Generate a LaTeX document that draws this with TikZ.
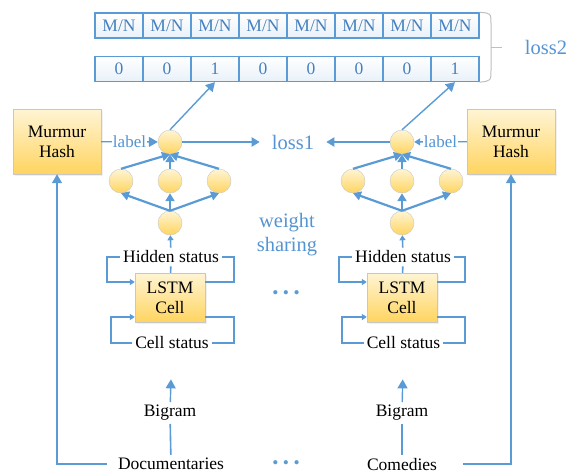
\documentclass[tikz,border=0pt]{standalone}
\usepackage{fontspec}
\setmainfont{Liberation Serif}
\usetikzlibrary{positioning, arrows.meta, shapes.geometric, calc, shadows}

\definecolor{lineblue}{RGB}{91,155,213}
\definecolor{textblue}{RGB}{84,148,210}
\definecolor{cellblue}{RGB}{70,128,190}
\definecolor{goldlight}{RGB}{255,245,212}
\definecolor{golddark}{RGB}{255,212,96}

\begin{document}
\begin{tikzpicture}[
    x=1pt, y=-1pt,
    font=\fontsize{17.5}{20}\selectfont,
    cell/.style={draw=lineblue, line width=1.3pt, minimum width=48pt, minimum height=25pt, inner sep=0pt, text=cellblue, top color=white, bottom color=lineblue!14},
    hashbox/.style={draw=black!22, rectangle, minimum width=88pt, minimum height=65pt, align=center, top color=goldlight, bottom color=golddark, drop shadow={opacity=0.12, shadow xshift=1.5pt, shadow yshift=-1.5pt}},
    lstmbox/.style={draw=black!22, rectangle, minimum width=70pt, minimum height=49pt, align=center, top color=goldlight, bottom color=golddark, drop shadow={opacity=0.12, shadow xshift=1.5pt, shadow yshift=-1.5pt}},
    neuron/.style={draw=black!22, circle, minimum size=24pt, inner sep=0pt, top color=goldlight, bottom color=golddark},
    plain/.style={inner sep=3pt},
    bluetext/.style={text=textblue, font=\fontsize{20.5}{24}\selectfont, inner sep=2pt},
    labeltext/.style={text=textblue, font=\fontsize{17}{19}\selectfont, fill=white, inner sep=1pt},
    dotsn/.style={text=lineblue, font=\fontsize{17.5}{20}\selectfont, inner sep=0pt},
    arrow/.style={-{Triangle[length=8pt, width=9pt]}, line width=2.2pt, lineblue},
    thinarrow/.style={-{Triangle[length=9pt, width=10pt]}, line width=1.4pt, lineblue},
    looparrow/.style={-{Triangle[length=5pt, width=6pt]}, line width=1.6pt, lineblue},
    line/.style={line width=1.6pt, lineblue},
    bracket/.style={draw=black!25, line width=1pt}
]
\useasboundingbox (0,0) rectangle (569,475);

% Output vectors
\foreach \v [count=\i] in {0,0,1,0,0,0,0,1} {
  \node[cell] (mn\i) at (71+48*\i, 25.5) {M/N};
  \node[cell] (bit\i) at (71+48*\i, 69) {\v};
}
\draw[bracket] (mn8.north east) .. controls (491,13) .. (491,25) -- (491,69) .. controls (491,81) .. (bit8.south east);
\coordinate (bracetip) at (491,47);
\draw[bracket] (bracetip) -- ++(11,0);
\node[bluetext] (loss2) at (546,47) {loss2};

% Hash boxes
\node[hashbox] (hashL) at (57,141.5) {Murmur\\Hash};
\node[hashbox] (hashR) at (511,141.5) {Murmur\\Hash};

% Left network
\node[neuron] (topL) at (170,142) {};
\node[neuron] (mlL) at (121,181) {};
\node[neuron] (mmL) at (170,181) {};
\node[neuron] (mrL) at (219,181) {};
\node[neuron] (botL) at (170,223) {};

% Right network
\node[neuron] (topR) at (402,142) {};
\node[neuron] (mlR) at (353,181) {};
\node[neuron] (mmR) at (402,181) {};
\node[neuron] (mrR) at (451,181) {};
\node[neuron] (botR) at (402,223) {};

\node[bluetext, inner xsep=12pt] (loss1) at (293,142) {loss1};
\node[bluetext, align=center] (share) at (287,235) {weight\\sharing};

% LSTM cells
\node[plain] (hsL) at (171,257) {Hidden status};
\node[lstmbox] (lstmL) at (170,297.5) {LSTM\\Cell};
\node[plain] (csL) at (172,343) {Cell status};
\node[plain] (hsR) at (403,257) {Hidden status};
\node[lstmbox] (lstmR) at (402,297.5) {LSTM\\Cell};
\node[plain] (csR) at (403.5,343) {Cell status};
\node[dotsn] (dotsmid) at (286,295) {•\hspace{4.5pt}•\hspace{4.5pt}•};

% Inputs
\node[plain] (bigL) at (170,413) {Bigram};
\node[plain] (docL) at (171,464) {Documentaries};
\node[plain] (bigR) at (402,413) {Bigram};
\node[plain] (comR) at (402,464) {Comedies};
\node[dotsn] (dotsbot) at (286,465) {•\hspace{4.5pt}•\hspace{4.5pt}•};

% Edges
\draw[thinarrow] (topL.north) -- (bit3.south);
\draw[thinarrow] (topR.north) -- (bit8.south);
\draw[thinarrow] (hashL) -- node[labeltext] {label} (topL);
\draw[-{Triangle[length=6pt, width=7pt]}, line width=1.4pt, lineblue] (hashR) -- node[labeltext] {label} (topR);
\draw[arrow] (topL) -- (loss1);
\draw[arrow] (topR) -- (loss1);
\foreach \n in {mlL, mmL, mrL} {
  \draw[arrow] (\n.north) -- (topL.south);
  \draw[arrow] (botL.north) -- (\n.south);
}
\foreach \n in {mlR, mmR, mrR} {
  \draw[arrow] (\n.north) -- (topR.south);
  \draw[arrow] (botR.north) -- (\n.south);
}
\draw[looparrow] (hsL) -- (botL);
\draw[looparrow] (hsR) -- (botR);
\draw[line] (lstmL) -- (hsL);
\draw[line] (lstmR) -- (hsR);

% Recurrent loops
\draw[looparrow] (hsL.west) -| ([xshift=-28pt, yshift=15.5pt]lstmL.west) -- ([yshift=15.5pt]lstmL.west);
\draw[line] ([yshift=15.5pt]lstmL.east) -- ++(29,0) |- (hsL.east);
\draw[looparrow] (csL.west) -| ([xshift=-24pt, yshift=-19.5pt]lstmL.west) -- ([yshift=-19.5pt]lstmL.west);
\draw[line] ([yshift=-19.5pt]lstmL.east) -- ++(29,0) |- (csL.east);
\draw[looparrow] (hsR.west) -| ([xshift=-28pt, yshift=15.5pt]lstmR.west) -- ([yshift=15.5pt]lstmR.west);
\draw[line] ([yshift=15.5pt]lstmR.east) -- ++(28,0) |- (hsR.east);
\draw[looparrow] (csR.west) -| ([xshift=-25pt, yshift=-19.5pt]lstmR.west) -- ([yshift=-19.5pt]lstmR.west);
\draw[line] ([yshift=-19.5pt]lstmR.east) -- ++(28,0) |- (csR.east);

% Input paths
\draw[line] (docL) -- (bigL);
\draw[line] (comR) -- (bigR);
\draw[thinarrow, shorten >=27pt] (bigL) -- (csL);
\draw[thinarrow, shorten >=27pt] (bigR) -- (csR);
\draw[thinarrow, shorten <=8pt] (docL.west) -| (hashL.south);
\draw[thinarrow, shorten <=23pt] (comR.east) -| (hashR.south);

\end{tikzpicture}
\end{document}
